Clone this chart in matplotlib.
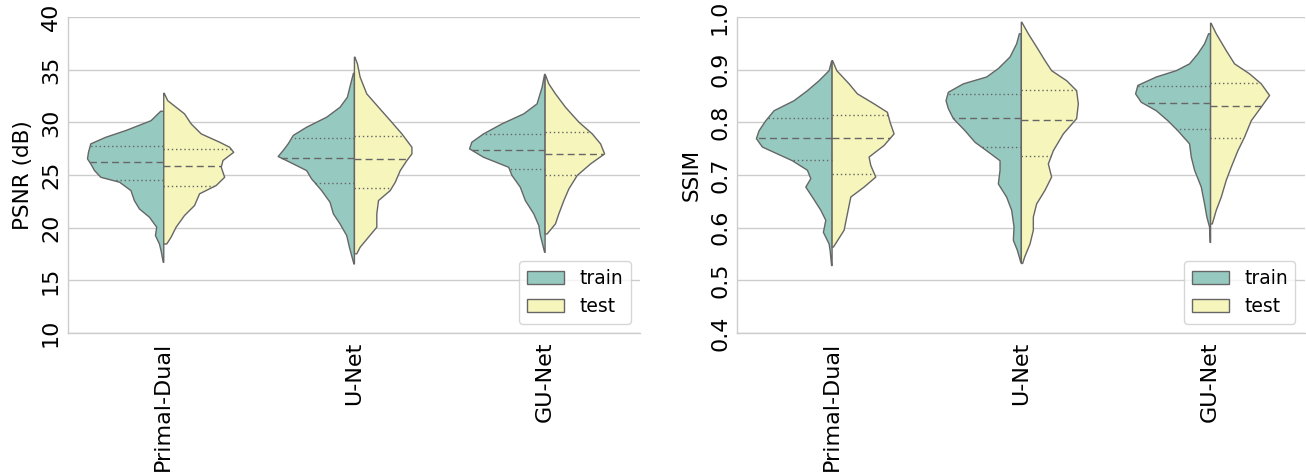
import numpy as np
import matplotlib
matplotlib.use("Agg")
import matplotlib.pyplot as plt
from matplotlib.patches import Patch

# Models on the x axis
models = ["Primal-Dual", "U-Net", "GU-Net"]

# Density profiles of each half violin: sample heights (top to bottom) and
# the estimated density at each height. Quartiles are (q1, median, q3).
psnr_train_y = [
    [31.1, 30.2, 29.27, 28.63, 28.0, 27.2, 26.58, 26.1, 25.47, 24.83, 24.36, 23.57, 22.62, 21.83, 21.04, 20.09, 19.3, 18.5, 17.87, 16.76],
    [34.7, 33.7, 32.43, 31.48, 30.53, 29.58, 28.8, 28.0, 27.37, 26.8, 26.26, 25.47, 24.68, 23.57, 22.46, 21.36, 20.4, 19.3, 18.19, 16.6],
    [34.6, 33.38, 31.8, 30.85, 29.9, 28.95, 28.16, 27.53, 26.73, 25.78, 25.0, 23.89, 22.62, 21.36, 20.25, 19.3, 17.71],
]
psnr_train_d = [
    [3, 12.7, 37.7, 57.7, 72.7, 75, 76, 72.7, 69, 62.7, 44, 32.7, 29.3, 24.3, 14.3, 7, 8.3, 4.3, 2.7, 0.5],
    [1, 3.7, 7, 14.3, 27.7, 47.7, 61, 66, 71, 76, 64.3, 47.7, 42.7, 32.7, 24.3, 21, 14.3, 7.7, 5, 0.5],
    [0.5, 3, 8, 21.3, 43, 61.3, 73, 75.3, 61.3, 36.3, 33, 24.7, 19.7, 11.3, 6.3, 4.7, 0.5],
]
psnr_test_y = [
    [32.8, 32.1, 30.85, 29.9, 28.95, 28.16, 27.68, 27.2, 26.42, 25.78, 24.83, 24.05, 23.26, 22.15, 21.2, 20.09, 19.14, 18.5],
    [36.23, 35.6, 34.33, 32.75, 31.48, 30.22, 28.95, 27.68, 27.05, 26.42, 25.47, 24.36, 23.57, 22.62, 21.36, 20.09, 19.14, 18.19, 17.56],
    [34.5, 33.7, 32.75, 31.48, 30.06, 28.95, 28.0, 27.05, 26.1, 25.0, 23.73, 22.62, 21.36, 20.4, 19.45],
]
psnr_test_d = [
    [0.5, 4, 20.7, 27.3, 37.3, 55.7, 65.7, 69.7, 59, 57.3, 60.7, 52.3, 35.7, 30.7, 20.7, 12.3, 7.3, 3],
    [0.5, 3, 5.7, 12.3, 24, 35.7, 47.3, 57.3, 57.3, 52.3, 45.7, 40.7, 35.7, 24, 22.3, 22.3, 14, 5.7, 2.3],
    [0.5, 3.7, 10.3, 20.3, 33.7, 47, 55.3, 59.3, 45.3, 32, 23.7, 18.7, 13.7, 10.3, 2],
]
psnr_train_q = [(24.52, 26.2, 27.8), (24.27, 26.64, 28.48), (25.53, 27.37, 28.86)]
psnr_test_q = [(23.95, 25.85, 27.5), (23.79, 26.48, 28.73), (25.0, 26.96, 29.1)]

ssim_train_y = [
    [0.917, 0.899, 0.880, 0.861, 0.842, 0.823, 0.804, 0.785, 0.770, 0.754, 0.741, 0.728, 0.710, 0.694, 0.678, 0.659, 0.634, 0.615, 0.592, 0.570, 0.558, 0.529],
    [0.969, 0.950, 0.925, 0.903, 0.887, 0.874, 0.858, 0.842, 0.827, 0.808, 0.785, 0.763, 0.747, 0.728, 0.710, 0.684, 0.659, 0.634, 0.602, 0.577, 0.558, 0.535],
    [0.969, 0.950, 0.931, 0.912, 0.899, 0.887, 0.871, 0.855, 0.839, 0.823, 0.804, 0.785, 0.760, 0.735, 0.710, 0.678, 0.646, 0.621, 0.602, 0.573],
]
ssim_train_d = [
    [0.5, 3, 13, 24.7, 38, 58, 66.3, 73, 75.7, 69.7, 54.7, 39.7, 24.7, 21.3, 26.3, 19.7, 11.3, 6.3, 8.7, 3, 2, 0.5],
    [2, 4.7, 11.3, 23, 34.7, 58, 73, 75.3, 73, 68, 56.3, 46.3, 34.7, 21.3, 21.3, 23, 14.7, 9.7, 7.3, 8, 4, 0.5],
    [2, 6, 12.7, 21, 34.3, 54.3, 72.7, 75, 69.3, 54.3, 42.7, 32.7, 21, 19.3, 16, 9.3, 6, 3.7, 1, 0.5],
]
ssim_test_y = [
    [0.918, 0.899, 0.874, 0.855, 0.836, 0.820, 0.801, 0.779, 0.757, 0.735, 0.719, 0.697, 0.678, 0.659, 0.627, 0.596, 0.564],
    [0.991, 0.969, 0.944, 0.918, 0.899, 0.880, 0.861, 0.836, 0.808, 0.779, 0.747, 0.722, 0.697, 0.672, 0.646, 0.621, 0.596, 0.570, 0.545, 0.533],
    [0.989, 0.969, 0.937, 0.912, 0.893, 0.874, 0.852, 0.830, 0.804, 0.773, 0.747, 0.716, 0.691, 0.659, 0.634, 0.608],
]
ssim_test_d = [
    [0.5, 4.7, 17, 25.3, 42, 55.3, 58, 62, 52, 37, 38.7, 43.7, 32, 18.7, 15.3, 12, 1.3],
    [0.5, 7, 15.3, 23.7, 30.3, 45.3, 55.3, 57, 55.3, 42, 32, 27, 30.3, 23.7, 15.3, 12, 12, 8.7, 3.3, 1.3],
    [0.5, 5.7, 15.7, 24, 39, 50.7, 59, 50.7, 40.7, 34, 27.3, 20.7, 15.7, 10.7, 5.7, 1.7],
]
ssim_train_q = [(0.728, 0.770, 0.808), (0.754, 0.809, 0.853), (0.787, 0.836, 0.869)]
ssim_test_q = [(0.702, 0.770, 0.813), (0.736, 0.804, 0.861), (0.770, 0.831, 0.875)]

TRAIN_COLOR = "#96cac1"
TEST_COLOR = "#f5f5bc"
LINE_COLOR = "#666666"
GRID_COLOR = "#cccccc"

plt.rcParams["font.family"] = ["DejaVu Sans"]


def half_violin(ax, pos, ys, dens, quarts, scale, side, color):
    y = np.asarray(ys)[::-1]
    d = np.asarray(dens)[::-1] * scale
    if side < 0:
        ax.fill_betweenx(y, pos - d, pos, facecolor=color, edgecolor=LINE_COLOR,
                         linewidth=1.0, zorder=2)
    else:
        ax.fill_betweenx(y, pos, pos + d, facecolor=color, edgecolor=LINE_COLOR,
                         linewidth=1.0, zorder=2)
    for k, q in enumerate(quarts):
        w = np.interp(q, y, d)
        style = (0, (5, 3)) if k == 1 else (0, (1, 2))
        ax.plot([pos, pos + side * w], [q, q], color=LINE_COLOR,
                linewidth=1.0, linestyle=style, zorder=3)


def violin_panel(ax, tr_y, tr_d, tr_q, te_y, te_d, te_q):
    peak = max(max(max(v) for v in tr_d), max(max(v) for v in te_d))
    scale = 0.4 / peak
    for i in range(len(models)):
        half_violin(ax, i, tr_y[i], tr_d[i], tr_q[i], scale, -1, TRAIN_COLOR)
        half_violin(ax, i, te_y[i], te_d[i], te_q[i], scale, 1, TEST_COLOR)
    ax.set_xlim(-0.5, len(models) - 0.5)
    ax.set_xticks(range(len(models)))
    ax.set_xticklabels(models, rotation=90, fontsize=16)
    ax.tick_params(axis="y", labelrotation=90, labelsize=16, length=0, pad=5)
    ax.tick_params(axis="x", length=0, pad=6)
    for lab in ax.get_yticklabels():
        lab.set_va("center")
    ax.grid(axis="y", color=GRID_COLOR, linewidth=1.0, zorder=0)
    ax.set_axisbelow(True)
    for s in ("top", "right"):
        ax.spines[s].set_visible(False)
    for s in ("left", "bottom"):
        ax.spines[s].set_color(GRID_COLOR)
        ax.spines[s].set_linewidth(1.0)
    handles = [Patch(facecolor=TRAIN_COLOR, edgecolor=LINE_COLOR, label="train"),
               Patch(facecolor=TEST_COLOR, edgecolor=LINE_COLOR, label="test")]
    leg = ax.legend(handles=handles, loc="lower right", fontsize=13.5,
                    frameon=True, fancybox=True)
    leg.get_frame().set_edgecolor(GRID_COLOR)


fig = plt.figure(figsize=(13.06, 4.72), dpi=100)
ax1 = fig.add_axes([0.052, 0.2945, 0.438, 0.6695])
ax2 = fig.add_axes([0.5643, 0.2945, 0.4347, 0.6695])

violin_panel(ax1, psnr_train_y, psnr_train_d, psnr_train_q,
             psnr_test_y, psnr_test_d, psnr_test_q)
ax1.set_ylim(10, 40)
ax1.set_yticks(np.arange(10, 41, 5))
ax1.set_ylabel("PSNR (dB)", fontsize=15.5, labelpad=6)

violin_panel(ax2, ssim_train_y, ssim_train_d, ssim_train_q,
             ssim_test_y, ssim_test_d, ssim_test_q)
ax2.set_ylim(0.4, 1.0)
ax2.set_yticks(np.round(np.arange(0.4, 1.01, 0.1), 1))
ax2.set_ylabel("SSIM", fontsize=15.5, labelpad=6)

fig.savefig("out.png", dpi=100)
